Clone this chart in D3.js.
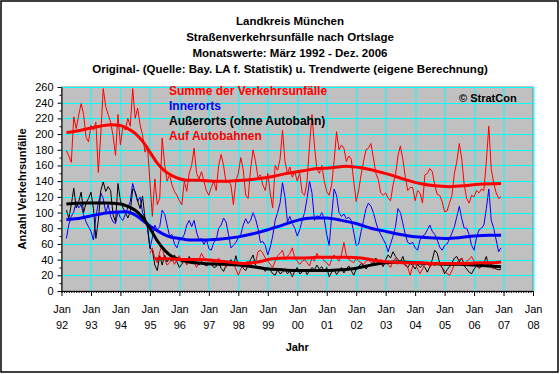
<!DOCTYPE html>
<html>
<head>
<meta charset="utf-8">
<script src="https://cdn.jsdelivr.net/npm/d3@7"></script>
<style>
  body { margin: 0; background: #fff; }
  svg { display: block; }
  text { font-family: "Liberation Sans", Arial, sans-serif; }
</style>
</head>
<body>
<div id="wrapper"></div>
<script>
// Monatswerte, Index 0 = Jan 1992
const summeStart = 2   // Maerz 1992
const summe = [
  179,172,164,222,207,224,239,225,196,190,                 // 1992
  211,205,215,151,200,258,235,225,215,198,173,225,         // 1993
  186,210,205,220,210,258,220,233,212,199,177,185,         // 1994
  140,95,143,110,118,195,161,140,148,135,127,122,          // 1995
  115,110,140,127,150,160,182,150,143,152,140,128,         // 1996
  122,132,140,128,160,174,160,138,140,135,110,140,         // 1997
  150,170,155,122,118,155,180,165,145,148,135,128,         // 1998
  150,125,106,160,154,168,205,165,150,158,145,152,         // 1999
  140,150,125,122,140,185,225,185,155,150,160,140,         // 2000
  127,122,135,165,203,180,186,182,165,172,168,140,         // 2001
  114,128,148,165,180,182,188,170,150,142,125,122,         // 2002
  125,118,115,135,148,172,185,168,145,128,132,132,         // 2003
  115,128,125,112,148,150,156,152,135,123,122,114,         // 2004
  101,102,112,122,150,165,188,168,135,118,112,122,         // 2005
  120,128,125,130,128,165,210,155,138,125,118,120          // 2006
]

const innerortsStart = 2
const innerorts = [
  67,85,95,101,114,106,110,97,88,82,
  76,65,95,112,125,118,100,110,95,88,86,101,
  93,90,98,106,114,137,125,114,120,100,93,80,
  54,68,84,78,82,103,98,84,70,72,60,55,
  65,67,72,84,90,82,90,75,65,67,59,66,
  54,52,62,65,80,84,93,88,72,55,58,62,
  68,72,84,92,86,90,100,92,80,62,63,58,
  46,56,70,90,100,112,138,120,88,95,86,80,
  70,78,90,100,118,140,125,90,96,94,100,92,
  72,58,95,130,122,100,95,98,92,94,90,75,
  58,60,76,90,105,112,108,100,88,78,72,66,
  60,50,60,70,82,105,100,86,72,62,60,62,
  55,52,65,70,72,78,84,76,72,65,56,52,
  58,60,66,74,82,95,108,92,80,80,72,58,
  52,68,78,80,84,105,130,90,80,65,50,55
]

const ausserortsStart = 2
const ausserorts = [
  103,93,110,131,106,114,126,100,112,118,
  126,105,67,90,128,139,127,133,128,97,88,137,
  115,106,100,93,101,130,127,115,105,121,93,84,
  55,52,33,26,45,33,46,37,42,38,46,37,
  30,34,40,35,44,38,42,36,33,38,34,32,
  34,35,30,31,36,29,25,33,35,40,32,45,
  33,36,29,26,33,40,46,33,30,31,28,25,
  30,27,22,20,27,22,24,28,22,25,18,26,
  30,22,24,28,21,26,30,27,33,28,31,25,
  30,18,24,28,21,25,30,23,28,32,26,20,
  28,31,35,33,28,32,34,36,42,38,36,31,
  40,46,42,50,44,40,37,44,34,30,35,33,
  28,34,30,33,30,24,31,40,52,48,36,30,
  22,27,31,36,42,44,37,42,32,28,24,22,
  28,32,29,31,36,44,31,35,30,28,27,28
]

const autobahnStart = 36   // Jan 1995
const autobahn = [
  48,55,42,36,50,58,40,33,36,42,34,40,
  45,36,40,33,38,42,36,30,40,48,42,40,
  38,41,35,38,42,35,38,30,36,38,35,28,
  20,28,34,36,38,32,38,36,50,52,48,42,
  38,34,30,38,45,48,52,40,44,48,55,42,
  38,34,38,40,36,32,42,38,48,42,44,38,
  36,32,40,46,42,38,46,62,45,40,38,36,
  42,38,36,34,38,40,36,38,35,36,40,33,
  36,34,30,38,42,34,38,36,32,30,20,32,
  36,28,22,28,34,36,30,34,32,36,33,30,
  26,22,20,26,34,36,40,42,34,38,40,44,
  38,33,30,31,36,34,32,30,28,33,31,30
]

// Trendwerte (Stuetzstellen: Monatsindex, Wert)
const summeTrendM = [2,8,14,20,24,27,30,33,36,39,42,45,48,51,56,62,68,74,80,86,92,98,104,110,116,122,128,134,140,146,152,158,164,170,179]
const summeTrend  = [202,205,209,212,211,207,201,191,177,163,153,147,143,141,141,140,140,141,143,146,150,153,156,157,159,157,153,148,142,137,134,133,134,136,137]

const innerortsTrendM = [2,8,14,20,26,30,33,36,40,44,48,52,58,64,72,78,84,90,96,102,108,114,120,126,132,138,144,150,156,162,168,174,179]
const innerortsTrend  = [91,93,97,100,101,97,90,83,75,69,67,65,65,66,69,73,78,84,90,93,93,90,86,80,76,72,69,68,67,68,70,71,71]

const ausserortsTrendM = [2,10,18,24,27,30,33,36,39,42,45,48,52,58,66,72,78,84,90,96,102,108,114,120,126,132,138,144,150,156,162,168,174,179]
const ausserortsTrend  = [111,112,112,111,108,103,94,80,64,52,44,40,37,35,34,33,31,28,27,26,26,26,27,29,33,36,37,36,35,34,34,33,32,31]

const autobahnTrendM = [38,44,50,56,62,68,74,80,86,92,98,104,110,116,122,128,134,140,146,152,158,164,170,176,179]
const autobahnTrend  = [41,41,40,40,39,37,35,37,41,42,42,43,43,43,42,39,37,36,36,35,35,35,36,36,37]

const yearLabels = ['92','93','94','95','96','97','98','99','00','01','02','03','04','05','06','07','08']
const titleLines = [
  'Landkreis München',
  'Straßenverkehrsunfälle nach Ortslage',
  'Monatswerte:  März 1992 - Dez. 2006',
  'Original- (Quelle: Bay. LA f. Statistik) u. Trendwerte (eigene Berechnung)'
]
const legendItems = [
  { name: 'Summe der Verkehrsunfälle', color: '#ff0000' },
  { name: 'Innerorts', color: '#0000ff' },
  { name: 'Außerorts (ohne Autobahn)', color: '#000000' },
  { name: 'Auf Autobahnen', color: '#ff0000' }
]

function drawChart() {
  const dimensions = {
    width: 560,
    height: 374,
    margins: { top: 87, right: 27, bottom: 83, left: 61.5 }
  }
  dimensions.boundedWidth = dimensions.width - dimensions.margins.left - dimensions.margins.right
  dimensions.boundedHeight = dimensions.height - dimensions.margins.top - dimensions.margins.bottom

  const svg = d3.select('#wrapper').append('svg')
    .attr('width', dimensions.width)
    .attr('height', dimensions.height)

  svg.append('rect')
    .attr('x', 1).attr('y', 1)
    .attr('width', dimensions.width - 3).attr('height', dimensions.height - 3)
    .attr('fill', '#fff').attr('stroke', '#000').attr('stroke-width', 1.5)

  // Titel
  svg.append('g').selectAll('text')
    .data(titleLines)
    .enter().append('text')
    .attr('x', 290)
    .attr('y', (d, i) => 25 + i * 16)
    .attr('text-anchor', 'middle')
    .style('font-size', '11.5px')
    .style('font-weight', 'bold')
    .text(d => d)

  const bounds = svg.append('g')
    .attr('transform', `translate(${dimensions.margins.left},${dimensions.margins.top})`)

  const xScale = d3.scaleLinear()
    .domain([0, 192])
    .range([0, dimensions.boundedWidth])

  const yScale = d3.scaleLinear()
    .domain([0, 260])
    .range([dimensions.boundedHeight, 0])

  bounds.append('rect')
    .attr('width', dimensions.boundedWidth)
    .attr('height', dimensions.boundedHeight)
    .attr('fill', '#c0c0c0')
    .attr('stroke', '#808080')

  // Gitterlinien
  const yearTicks = d3.range(0, 193, 12)
  bounds.append('g').selectAll('line')
    .data(yearTicks.slice(1))
    .enter().append('line')
    .attr('x1', d => Math.round(xScale(d)) + 0.5)
    .attr('x2', d => Math.round(xScale(d)) + 0.5)
    .attr('y1', 0).attr('y2', dimensions.boundedHeight)
    .attr('stroke', '#00ffff')

  bounds.append('g').selectAll('line')
    .data(d3.range(20, 261, 20))
    .enter().append('line')
    .attr('y1', d => Math.round(yScale(d)) + 0.5)
    .attr('y2', d => Math.round(yScale(d)) + 0.5)
    .attr('x1', 0).attr('x2', dimensions.boundedWidth)
    .attr('stroke', '#00ffff')

  // Linien
  const toPoints = (arr, start) => arr.map((v, i) => ({ m: start + i, v: v }))
  const toTrend = (ms, vs) => ms.map((m, i) => ({ m: m, v: vs[i] }))

  const rawLine = d3.line()
    .x(d => xScale(d.m))
    .y(d => yScale(d.v))

  const trendLine = d3.line()
    .x(d => xScale(d.m))
    .y(d => yScale(d.v))
    .curve(d3.curveMonotoneX)

  const rawSeries = [
    { data: toPoints(summe, summeStart), color: '#ff0000' },
    { data: toPoints(innerorts, innerortsStart), color: '#0000ff' },
    { data: toPoints(ausserorts, ausserortsStart), color: '#000000' },
    { data: toPoints(autobahn, autobahnStart), color: '#ff0000' }
  ]
  const trendSeries = [
    { data: toTrend(summeTrendM, summeTrend), color: '#ff0000' },
    { data: toTrend(innerortsTrendM, innerortsTrend), color: '#0000ff' },
    { data: toTrend(ausserortsTrendM, ausserortsTrend), color: '#000000' },
    { data: toTrend(autobahnTrendM, autobahnTrend), color: '#ff0000' }
  ]

  rawSeries.forEach(s => {
    bounds.append('path')
      .datum(s.data)
      .attr('d', rawLine)
      .attr('fill', 'none')
      .attr('stroke', s.color)
      .attr('stroke-width', 1)
  })
  trendSeries.forEach(s => {
    bounds.append('path')
      .datum(s.data)
      .attr('d', trendLine)
      .attr('fill', 'none')
      .attr('stroke', s.color)
      .attr('stroke-width', 3)
  })

  // Achsen
  const xMinor = bounds.append('g')
    .attr('transform', `translate(0,${dimensions.boundedHeight})`)
    .call(d3.axisBottom(xScale).tickValues(d3.range(0, 193)).tickSize(2).tickFormat(''))
  xMinor.select('.domain').remove()

  const xAxis = bounds.append('g')
    .attr('transform', `translate(0,${dimensions.boundedHeight})`)
    .call(d3.axisBottom(xScale).tickValues(yearTicks).tickSize(5).tickSizeOuter(0).tickFormat(''))
  xAxis.selectAll('line, path').attr('stroke', '#000')

  const xLabels = xAxis.selectAll('.tick')
  xLabels.append('text')
    .attr('y', 21.5)
    .attr('fill', '#000')
    .attr('text-anchor', 'middle')
    .style('font-size', '11px')
    .text('Jan')
  xLabels.append('text')
    .attr('y', 38)
    .attr('fill', '#000')
    .attr('text-anchor', 'middle')
    .style('font-size', '11px')
    .text((d, i) => yearLabels[i])

  const yMinor = bounds.append('g')
    .call(d3.axisLeft(yScale).tickValues(d3.range(10, 260, 20)).tickSize(2).tickFormat(''))
  yMinor.select('.domain').remove()

  const yAxis = bounds.append('g')
    .call(d3.axisLeft(yScale).tickValues(d3.range(0, 261, 20)).tickSize(4).tickSizeOuter(0).tickPadding(4))
  yAxis.selectAll('line, path').attr('stroke', '#000')
  yAxis.selectAll('text')
    .attr('fill', '#000')
    .style('font-size', '11px')
    .style('font-family', '"Liberation Sans", Arial, sans-serif')

  // Achsentitel
  svg.append('text')
    .attr('x', dimensions.margins.left + dimensions.boundedWidth / 2)
    .attr('y', 351)
    .attr('text-anchor', 'middle')
    .style('font-size', '11px')
    .style('font-weight', 'bold')
    .text('Jahr')

  svg.append('text')
    .attr('transform', `translate(26,${dimensions.margins.top + dimensions.boundedHeight / 2}) rotate(-90)`)
    .attr('text-anchor', 'middle')
    .style('font-size', '11px')
    .style('font-weight', 'bold')
    .text('Anzahl Verkehrsunfälle')

  // Legende
  svg.append('g').selectAll('text')
    .data(legendItems)
    .enter().append('text')
    .attr('x', 169)
    .attr('y', (d, i) => 95 + i * 15)
    .attr('fill', d => d.color)
    .style('font-size', '12px')
    .style('font-weight', 'bold')
    .text(d => d.name)

  svg.append('text')
    .attr('x', 459)
    .attr('y', 101.5)
    .style('font-size', '11px')
    .style('font-weight', 'bold')
    .text('© StratCon')
}

drawChart()
</script>
</body>
</html>
